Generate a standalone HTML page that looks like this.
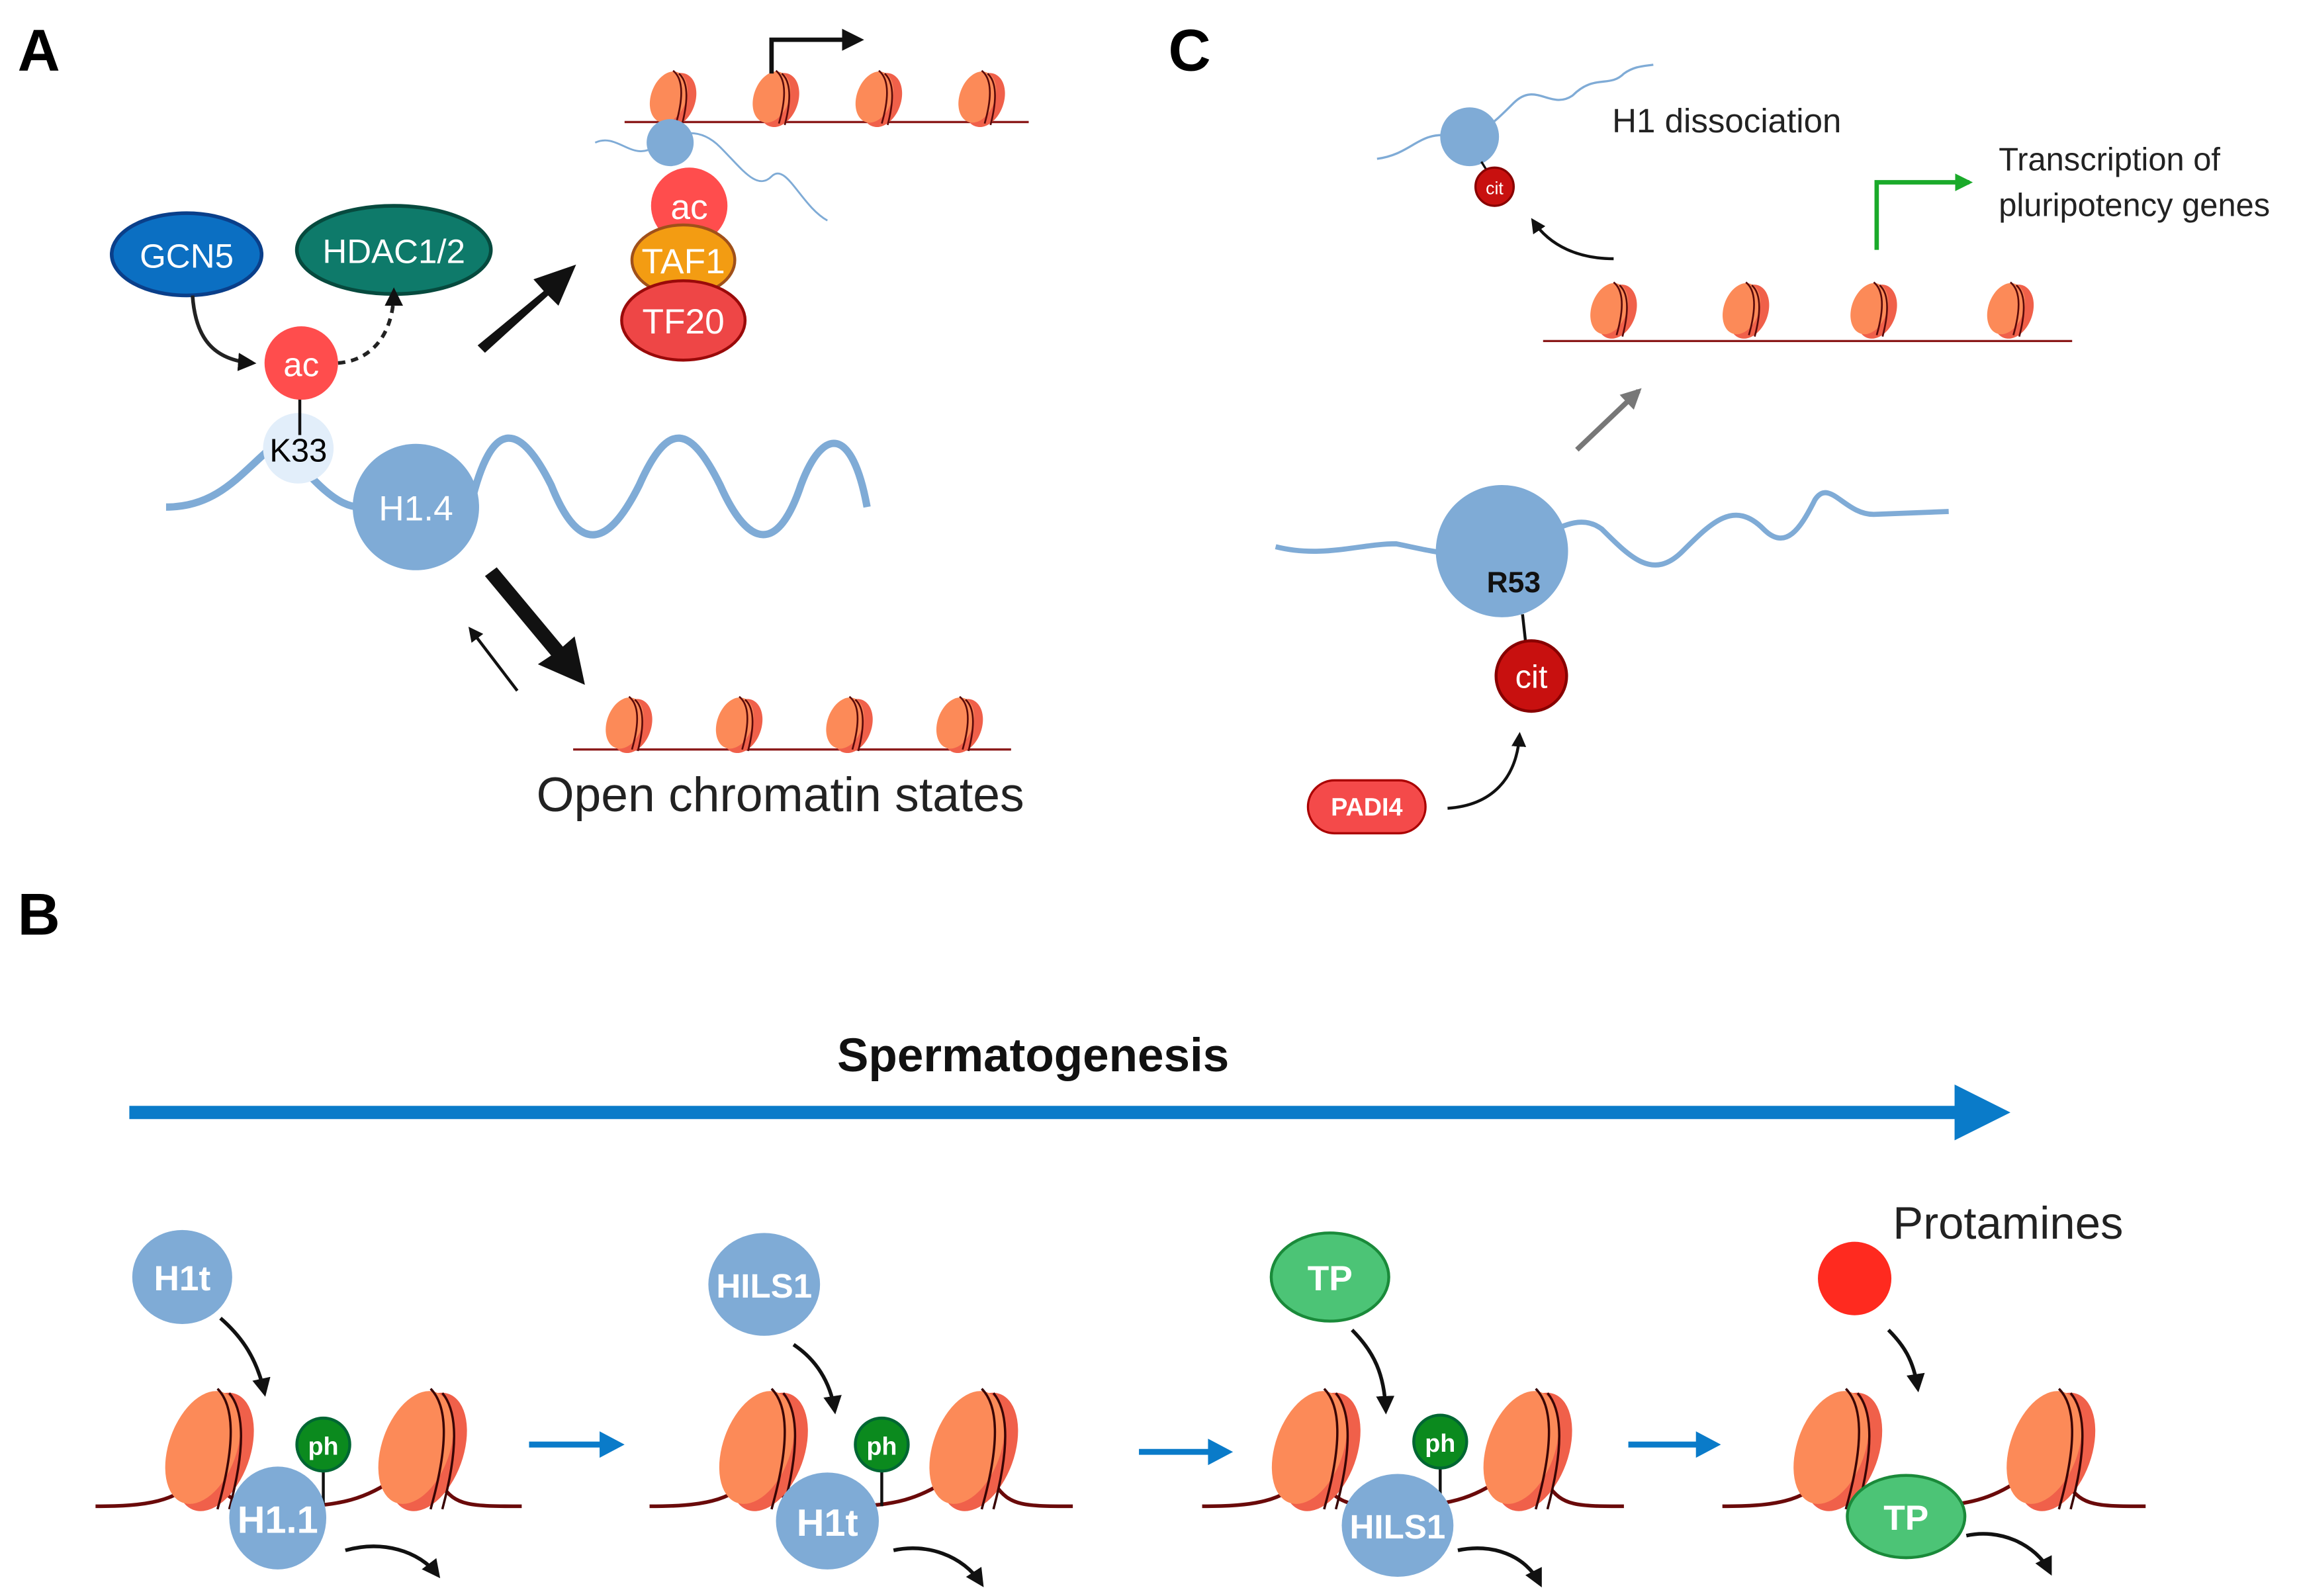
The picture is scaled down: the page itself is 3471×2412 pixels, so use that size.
<!DOCTYPE html>
<html><head><meta charset="utf-8"><style>
html,body{margin:0;padding:0;background:#fff;}
svg{display:block;}
text{font-family:"Liberation Sans",sans-serif;}
</style></head><body>
<svg width="3471" height="2412" viewBox="0 0 1563 1086" xmlns="http://www.w3.org/2000/svg">
<defs>
<marker id="ah" viewBox="0 0 10 10" refX="8" refY="5" markerWidth="5" markerHeight="5" orient="auto"><path d="M0,0L10,5L0,10z" fill="#111"/></marker>
<marker id="ahg" viewBox="0 0 10 10" refX="8" refY="5" markerWidth="4" markerHeight="4" orient="auto"><path d="M0,0L10,5L0,10z" fill="#1aaa2a"/></marker>
<marker id="ahgr" viewBox="0 0 10 10" refX="8" refY="5" markerWidth="4" markerHeight="4" orient="auto"><path d="M0,0L10,5L0,10z" fill="#777"/></marker>
<g id="nuc">
<ellipse cx="5" cy="2" rx="13" ry="19" fill="#f0604a" transform="rotate(20 5 2)"/>
<ellipse cx="0" cy="0" rx="12" ry="18" fill="#fc8a58" transform="rotate(20 0 0)"/>
<path d="M3,-18 Q13,-10 5,18" stroke="#5a0a0a" stroke-width="1.2" fill="none"/>
<path d="M7,-16 Q16,-8 9,19" stroke="#5a0a0a" stroke-width="1.2" fill="none"/>
</g>
<g id="bnuc">
<ellipse cx="6" cy="3" rx="24" ry="42" fill="#f0604a" transform="rotate(20 6 3)"/>
<ellipse cx="-2" cy="0" rx="23" ry="40" fill="#fc8a58" transform="rotate(20 -2 0)"/>
<path d="M8,-40 Q26,-22 8,42" stroke="#3a0505" stroke-width="1.6" fill="none"/>
<path d="M16,-37 Q32,-18 16,42" stroke="#3a0505" stroke-width="1.6" fill="none"/>
</g>
<g id="phg">
<line x1="0" y1="18" x2="0" y2="42" stroke="#111" stroke-width="2"/>
<circle cx="0" cy="0" r="18" fill="#0b8a1e" stroke="#063" stroke-width="2"/>
<text x="0" y="7" font-size="17" font-weight="bold" fill="#fff" text-anchor="middle">ph</text>
</g>
</defs>

<text x="12" y="48" font-size="40" font-weight="bold">A</text>
<text x="12" y="636" font-size="40" font-weight="bold">B</text>
<text x="795" y="48" font-size="40" font-weight="bold">C</text>

<!-- A top chromatin -->
<path d="M425,83 L700,83" stroke="#8b1a1a" stroke-width="1.5"/>
<use href="#nuc" x="455" y="66"/><use href="#nuc" x="525" y="66"/><use href="#nuc" x="595" y="66"/><use href="#nuc" x="665" y="66"/>
<path d="M525,50 L525,27 L585,27" stroke="#111" stroke-width="3" fill="none" marker-end="url(#ah)"/>
<path d="M405,97 C420,90 430,110 445,100 C460,90 475,85 490,100 C505,115 515,130 525,120 C535,110 545,140 563,150" stroke="#7fabd6" stroke-width="1.3" fill="none"/>
<circle cx="456" cy="97" r="16" fill="#7fabd6"/>
<circle cx="469" cy="140" r="26" fill="#ff4d4d"/>
<text x="469" y="149" font-size="24" fill="#fff" text-anchor="middle">ac</text>
<ellipse cx="465" cy="177" rx="35" ry="24" fill="#f39c12" stroke="#a0501a" stroke-width="2"/>
<text x="465" y="186" font-size="24" fill="#fff" text-anchor="middle">TAF1</text>
<ellipse cx="465" cy="218" rx="42" ry="27" fill="#ee4646" stroke="#9a0a0a" stroke-width="2"/>
<text x="465" y="227" font-size="24" fill="#fff" text-anchor="middle">TF20</text>

<ellipse cx="127" cy="173" rx="51" ry="28" fill="#0b6fc2" stroke="#0a3f8a" stroke-width="2.5"/>
<text x="127" y="182" font-size="23" fill="#fff" text-anchor="middle">GCN5</text>
<ellipse cx="268" cy="170" rx="66" ry="30" fill="#0e7a6a" stroke="#064a3e" stroke-width="2.5"/>
<text x="268" y="179" font-size="23" fill="#fff" text-anchor="middle">HDAC1/2</text>
<path d="M131,201 C133,230 145,245 172,247" stroke="#222" stroke-width="2.5" fill="none" marker-end="url(#ah)"/>
<path d="M230,247 C255,245 268,225 268,198" stroke="#222" stroke-width="2.5" stroke-dasharray="5,4" fill="none" marker-end="url(#ah)"/>

<path d="M113,345 C150,345 165,320 190,300 C215,330 230,345 245,345" stroke="#7fabd6" stroke-width="5" fill="none"/>
<path d="M320,345 C335,280 355,290 375,330 C395,380 415,370 435,330 C455,285 470,290 490,330 C510,375 530,375 545,330 C560,290 580,290 590,345" stroke="#7fabd6" stroke-width="5" fill="none"/>
<circle cx="203" cy="305" r="24" fill="#e2eefa"/>
<line x1="204" y1="271" x2="204" y2="296" stroke="#111" stroke-width="2"/>
<circle cx="205" cy="247" r="25" fill="#ff4d4d"/>
<text x="205" y="256" font-size="23" fill="#fff" text-anchor="middle">ac</text>
<text x="203" y="314" font-size="22" text-anchor="middle">K33</text>
<circle cx="283" cy="345" r="43" fill="#7fabd6"/>
<text x="283" y="354" font-size="24" fill="#fff" text-anchor="middle">H1.4</text>

<path d="M325,235 L370,198 L363,190 L392,180 L380,208 L373,201 L330,240 Z" fill="#111"/>
<path d="M330,392 L375,446 L366,452 L398,466 L391,433 L383,440 L338,386 Z" fill="#111"/>
<line x1="352" y1="470" x2="320" y2="428" stroke="#111" stroke-width="2" marker-end="url(#ah)"/>

<path d="M390,510 L688,510" stroke="#8b1a1a" stroke-width="1.5"/>
<use href="#nuc" x="425" y="492"/><use href="#nuc" x="500" y="492"/><use href="#nuc" x="575" y="492"/><use href="#nuc" x="650" y="492"/>
<text x="365" y="552" font-size="33" fill="#222">Open chromatin states</text>

<!-- C -->
<path d="M937,108 C960,105 965,90 985,92 C1005,95 1015,85 1030,70 C1045,55 1055,75 1070,65 C1085,50 1095,60 1105,50 C1112,45 1118,45 1125,44" stroke="#7fabd6" stroke-width="1.5" fill="none"/>
<circle cx="1000" cy="93" r="20" fill="#7fabd6"/>
<line x1="1008" y1="110" x2="1013" y2="118" stroke="#111" stroke-width="1.5"/>
<circle cx="1017" cy="127" r="13" fill="#c8100f" stroke="#800" stroke-width="1.5"/>
<text x="1017" y="132" font-size="12" fill="#fff" text-anchor="middle">cit</text>
<text x="1097" y="90" font-size="23" fill="#222">H1 dissociation</text>
<path d="M1098,176 C1075,176 1055,168 1043,150" stroke="#111" stroke-width="2" fill="none" marker-end="url(#ah)"/>
<path d="M1050,232 L1410,232" stroke="#8b1a1a" stroke-width="1.5"/>
<use href="#nuc" x="1095" y="210"/><use href="#nuc" x="1185" y="210"/><use href="#nuc" x="1272" y="210"/><use href="#nuc" x="1365" y="210"/>
<path d="M1277,170 L1277,124 L1340,124" stroke="#1aaa2a" stroke-width="3" fill="none" marker-end="url(#ahg)"/>
<text x="1360" y="116" font-size="22" fill="#222">Transcription of</text>
<text x="1360" y="147" font-size="22" fill="#222">pluripotency genes</text>
<line x1="1073" y1="306" x2="1115" y2="266" stroke="#777" stroke-width="3.5" marker-end="url(#ahgr)"/>
<path d="M868,372 C900,380 925,370 950,370 C975,375 990,380 1020,375 C1050,370 1070,345 1090,360 C1110,380 1125,395 1145,375 C1165,355 1180,340 1200,360 C1215,375 1225,360 1235,340 C1245,325 1255,350 1275,350 L1326,348" stroke="#7fabd6" stroke-width="3.5" fill="none"/>
<circle cx="1022" cy="375" r="45" fill="#7fabd6"/>
<text x="1030" y="403" font-size="20" font-weight="bold" fill="#111" text-anchor="middle">R53</text>
<line x1="1036" y1="418" x2="1038" y2="436" stroke="#111" stroke-width="2"/>
<circle cx="1042" cy="460" r="24" fill="#c8100f" stroke="#800" stroke-width="2"/>
<text x="1042" y="468" font-size="22" fill="#fff" text-anchor="middle">cit</text>
<rect x="890" y="531" width="80" height="36" rx="18" fill="#f44a4a" stroke="#a00" stroke-width="1.5"/>
<text x="930" y="555" font-size="17" font-weight="bold" fill="#fff" text-anchor="middle">PADI4</text>
<path d="M985,550 C1015,548 1032,530 1034,500" stroke="#111" stroke-width="2" fill="none" marker-end="url(#ah)"/>

<!-- B -->
<text x="703" y="729" font-size="32" font-weight="bold" fill="#111" text-anchor="middle">Spermatogenesis</text>
<line x1="88" y1="757" x2="1335" y2="757" stroke="#0a7bc9" stroke-width="9"/>
<path d="M1330,738 L1368,757 L1330,776 Z" fill="#0a7bc9"/>

<!-- panel 1 -->
<path d="M65,1025 C100,1025 120,1022 135,1005 M150,1012 C160,1025 170,1025 200,1025 C230,1025 250,1020 270,1005 M300,1010 C310,1025 320,1025 355,1025" stroke="#6a0a0a" stroke-width="2.5" fill="none"/>
<use href="#bnuc" x="140" y="985"/><use href="#bnuc" x="285" y="985"/>
<ellipse cx="124" cy="869" rx="34" ry="32" fill="#7fabd6"/>
<text x="124" y="878" font-size="24" font-weight="bold" fill="#fff" text-anchor="middle">H1t</text>
<path d="M150,897 C165,910 175,925 180,948" stroke="#111" stroke-width="2.5" fill="none" marker-end="url(#ah)"/>
<use href="#phg" x="220" y="983"/>
<ellipse cx="189" cy="1033" rx="33" ry="35" fill="#7fabd6"/>
<text x="189" y="1043" font-size="26" font-weight="bold" fill="#fff" text-anchor="middle">H1.1</text>
<path d="M235,1055 C260,1048 285,1055 298,1072" stroke="#111" stroke-width="2.5" fill="none" marker-end="url(#ah)"/>
<line x1="360" y1="983" x2="412" y2="983" stroke="#0a7bc9" stroke-width="4"/><path d="M408,974 L425,983 L408,992Z" fill="#0a7bc9"/>

<!-- panel 2 -->
<path d="M442,1025 C477,1025 497,1022 512,1005 M527,1012 C537,1025 547,1025 577,1025 C607,1025 627,1020 647,1005 M677,1010 C687,1025 697,1025 730,1025" stroke="#6a0a0a" stroke-width="2.5" fill="none"/>
<use href="#bnuc" x="517" y="985"/><use href="#bnuc" x="660" y="985"/>
<ellipse cx="520" cy="874" rx="38" ry="35" fill="#7fabd6"/>
<text x="520" y="883" font-size="23" font-weight="bold" fill="#fff" text-anchor="middle">HILS1</text>
<path d="M540,915 C555,925 565,940 568,960" stroke="#111" stroke-width="2.5" fill="none" marker-end="url(#ah)"/>
<use href="#phg" x="600" y="983"/>
<ellipse cx="563" cy="1035" rx="35" ry="33" fill="#7fabd6"/>
<text x="563" y="1045" font-size="26" font-weight="bold" fill="#fff" text-anchor="middle">H1t</text>
<path d="M608,1055 C630,1050 655,1058 668,1078" stroke="#111" stroke-width="2.5" fill="none" marker-end="url(#ah)"/>
<line x1="775" y1="988" x2="826" y2="988" stroke="#0a7bc9" stroke-width="4"/><path d="M822,979 L839,988 L822,997Z" fill="#0a7bc9"/>

<!-- panel 3 -->
<path d="M818,1025 C853,1025 873,1022 888,1005 M903,1012 C913,1025 923,1025 953,1025 C983,1025 1003,1020 1023,1005 M1053,1010 C1063,1025 1073,1025 1105,1025" stroke="#6a0a0a" stroke-width="2.5" fill="none"/>
<use href="#bnuc" x="893" y="985"/><use href="#bnuc" x="1037" y="985"/>
<ellipse cx="905" cy="869" rx="40" ry="30" fill="#4cc476" stroke="#1a8a3a" stroke-width="2"/>
<text x="905" y="878" font-size="24" font-weight="bold" fill="#fff" text-anchor="middle">TP</text>
<path d="M920,905 C935,920 942,935 943,960" stroke="#111" stroke-width="2.5" fill="none" marker-end="url(#ah)"/>
<use href="#phg" x="980" y="981"/>
<ellipse cx="951" cy="1038" rx="38" ry="35" fill="#7fabd6"/>
<text x="951" y="1047" font-size="23" font-weight="bold" fill="#fff" text-anchor="middle">HILS1</text>
<path d="M992,1055 C1015,1050 1038,1058 1048,1078" stroke="#111" stroke-width="2.5" fill="none" marker-end="url(#ah)"/>
<line x1="1108" y1="983" x2="1158" y2="983" stroke="#0a7bc9" stroke-width="4"/><path d="M1154,974 L1171,983 L1154,992Z" fill="#0a7bc9"/>

<!-- panel 4 -->
<path d="M1172,1025 C1207,1025 1227,1022 1242,1005 M1257,1012 C1267,1025 1277,1025 1307,1025 C1337,1025 1357,1020 1377,1005 M1407,1010 C1417,1025 1427,1025 1460,1025" stroke="#6a0a0a" stroke-width="2.5" fill="none"/>
<use href="#bnuc" x="1248" y="985"/><use href="#bnuc" x="1393" y="985"/>
<circle cx="1262" cy="870" r="25" fill="#ff2a1f"/>
<text x="1288" y="843" font-size="31" fill="#222">Protamines</text>
<path d="M1285,905 C1295,915 1302,925 1305,945" stroke="#111" stroke-width="2.5" fill="none" marker-end="url(#ah)"/>
<ellipse cx="1297" cy="1032" rx="40" ry="28" fill="#4cc476" stroke="#1a8a3a" stroke-width="2"/>
<text x="1297" y="1041" font-size="24" font-weight="bold" fill="#fff" text-anchor="middle">TP</text>
<path d="M1338,1045 C1360,1040 1385,1050 1395,1070" stroke="#111" stroke-width="2.5" fill="none" marker-end="url(#ah)"/>
</svg>
</body></html>
